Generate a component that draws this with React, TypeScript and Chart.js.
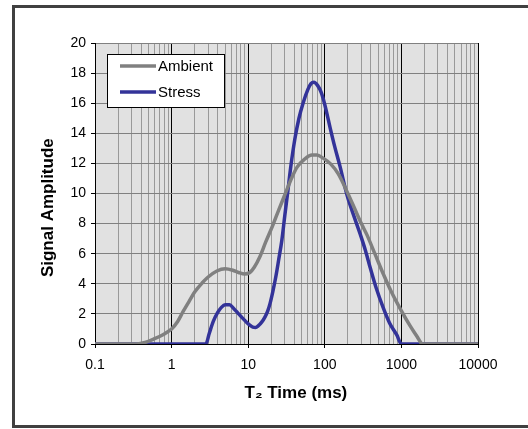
import React, { useEffect, useRef } from "react";
import { Chart, registerables } from "chart.js";

Chart.register(...registerables);

// ---- data ----
const ambientTime = [0.1, 0.35, 0.45, 0.6, 0.75, 0.87, 1.0, 1.2, 1.41, 1.7, 2.0, 2.5, 3.0, 3.9, 5.0, 6.3, 7.5, 9.0, 10.5, 12, 14.2, 17, 21, 25, 30, 36, 43.5, 55, 68, 79, 95, 120, 150, 200, 250, 300, 355, 450, 575, 750, 1000, 1300, 1600, 1800, 1900, 10000];
const ambientAmp = [0, 0, 0.1, 0.35, 0.58, 0.78, 1.0, 1.5, 2.15, 2.85, 3.45, 4.05, 4.45, 4.85, 5.0, 4.9, 4.75, 4.65, 4.75, 5.1, 5.8, 6.8, 7.9, 8.9, 9.9, 10.9, 11.75, 12.3, 12.55, 12.55, 12.35, 11.95, 11.3, 10.0, 8.9, 8.0, 7.25, 6.0, 4.7, 3.4, 2.2, 1.2, 0.5, 0.08, 0, 0];

const stressTime = [0.1, 2.8, 3.1, 3.5, 4.0, 4.5, 5.0, 5.7, 6.5, 7.5, 8.5, 9.5, 10.5, 11.5, 12.5, 13.5, 15, 16.6, 18, 19.3, 21, 23, 25, 27.5, 30, 33, 36, 40.6, 46, 52, 60, 66, 72, 80, 90, 100, 117, 135, 158, 195, 240, 290, 340, 390, 470, 575, 700, 870, 1000, 10000];
const stressAmp = [0, 0, 0.7, 1.5, 2.1, 2.45, 2.6, 2.6, 2.35, 2.0, 1.7, 1.45, 1.25, 1.12, 1.1, 1.2, 1.45, 1.8, 2.2, 2.7, 3.5, 4.5, 5.6, 6.9, 8.5, 10.2, 11.8, 13.6, 15.0, 16.0, 16.9, 17.3, 17.4, 17.2, 16.7, 15.9, 14.4, 13.1, 11.8, 9.9, 8.5, 7.3, 6.2, 5.1, 3.7, 2.45, 1.4, 0.6, 0, 0];

const seriesLabels = ["Ambient", "Stress"];
const xDecades = [0.1, 1, 10, 100, 1000, 10000];
const xTickLabels = ["0.1", "1", "10", "100", "1000", "10000"];
const yTickValues = [0, 2, 4, 6, 8, 10, 12, 14, 16, 18, 20];
const yTickLabels = ["0", "2", "4", "6", "8", "10", "12", "14", "16", "18", "20"];

const FONT = "'Liberation Sans', Arial, sans-serif";
const AMBIENT_COLOR = "#808080";
const STRESS_COLOR = "#333399";

const framePlugin = {
  id: "frame",
  beforeDraw(chart: any) {
    const { ctx, chartArea } = chart;
    ctx.save();
    ctx.fillStyle = "#ffffff";
    ctx.fillRect(0, 0, chart.width, chart.height);
    ctx.strokeStyle = "#404040";
    ctx.lineWidth = 3;
    ctx.strokeRect(13.5, 6.5, 530, 420);
    ctx.fillStyle = "#e1e1e1";
    ctx.fillRect(chartArea.left, chartArea.top, chartArea.right - chartArea.left, chartArea.bottom - chartArea.top);
    ctx.restore();
  },
  afterDraw(chart: any) {
    const { ctx } = chart;
    const x0 = 107.5, y0 = 54.5, w = 117, h = 53;
    ctx.save();
    ctx.fillStyle = "#ffffff";
    ctx.fillRect(x0, y0, w, h);
    ctx.strokeStyle = "#000000";
    ctx.lineWidth = 1;
    ctx.strokeRect(x0, y0, w, h);
    const ds = chart.data.datasets;
    const rows = [66, 92];
    ds.forEach((d: any, i: number) => {
      ctx.strokeStyle = d.borderColor;
      ctx.lineWidth = 3.5;
      ctx.beginPath();
      ctx.moveTo(120, rows[i]);
      ctx.lineTo(156, rows[i]);
      ctx.stroke();
      ctx.fillStyle = "#000000";
      ctx.font = `15px ${FONT}`;
      ctx.textBaseline = "middle";
      ctx.textAlign = "left";
      ctx.fillText(d.label, 158, rows[i] + 1);
    });
    ctx.restore();
  },
};

function isMajorTick(ctx: any) {
  return !!(ctx && ctx.tick && ctx.tick.major);
}

export default function App() {
  const ref = useRef<HTMLCanvasElement | null>(null);

  useEffect(() => {
    if (!ref.current) return;
    const chart = new Chart(ref.current, {
      type: "scatter",
      data: {
        datasets: [
          {
            label: seriesLabels[0],
            data: ambientTime.map((t, i) => ({ x: t, y: ambientAmp[i] })),
            showLine: true,
            borderColor: AMBIENT_COLOR,
            backgroundColor: AMBIENT_COLOR,
            borderWidth: 3.5,
            pointRadius: 0,
            cubicInterpolationMode: "monotone",
          },
          {
            label: seriesLabels[1],
            data: stressTime.map((t, i) => ({ x: t, y: stressAmp[i] })),
            showLine: true,
            borderColor: STRESS_COLOR,
            backgroundColor: STRESS_COLOR,
            borderWidth: 3.5,
            pointRadius: 0,
            cubicInterpolationMode: "monotone",
          },
        ],
      },
      options: {
        responsive: false,
        animation: false,
        devicePixelRatio: 1,
        layout: { padding: { top: 43, right: 50, left: 0, bottom: 0 } },
        plugins: {
          legend: { display: false },
          tooltip: { enabled: false },
        },
        scales: {
          x: {
            type: "logarithmic",
            min: 0.1,
            max: 10000,
            afterBuildTicks: (scale: any) => {
              const ticks: any[] = [];
              for (let d = 0; d < xDecades.length; d++) {
                const base = xDecades[d];
                ticks.push({ value: base, major: true });
                if (d < xDecades.length - 1) {
                  for (let k = 2; k <= 9; k++) ticks.push({ value: base * k, major: false });
                }
              }
              scale.ticks = ticks;
            },
            afterFit: (scale: any) => {
              scale.height = 85;
            },
            ticks: {
              autoSkip: false,
              maxRotation: 0,
              minRotation: 0,
              padding: 9,
              color: "#000000",
              font: { family: FONT, size: 14 },
              callback: (value: any, index: number, ticks: any[]) => {
                if (!ticks[index].major) return "";
                const di = xDecades.findIndex((d) => Math.abs(d - Number(value)) < d * 1e-6);
                return di >= 0 ? xTickLabels[di] : "";
              },
            },
            grid: {
              color: (ctx: any) => (isMajorTick(ctx) ? "#000000" : "#999999"),
              tickColor: (ctx: any) => (isMajorTick(ctx) ? "#000000" : "rgba(0,0,0,0)"),
              tickLength: 4,
              lineWidth: 1,
            },
            border: { display: true, color: "#000000", width: 1 },
            title: {
              display: true,
              text: "    T\u2082 Time (ms)",
              color: "#000000",
              font: { family: FONT, size: 17, weight: "bold" },
              padding: { top: 0, bottom: 25 },
            },
          },
          y: {
            type: "linear",
            min: 0,
            max: 20,
            afterBuildTicks: (scale: any) => {
              scale.ticks = yTickValues.map((v) => ({ value: v }));
            },
            afterFit: (scale: any) => {
              scale.width = 95;
            },
            ticks: {
              padding: 5,
              color: "#000000",
              font: { family: FONT, size: 14 },
              callback: (value: any) => {
                const i = yTickValues.indexOf(Number(value));
                return i >= 0 ? yTickLabels[i] : "";
              },
            },
            grid: {
              color: "#808080",
              tickColor: "#000000",
              tickLength: 4,
              lineWidth: 1,
            },
            border: { display: true, color: "#000000", width: 1 },
            title: {
              display: true,
              text: "Signal Amplitude      ",
              color: "#000000",
              font: { family: FONT, size: 17, weight: "bold" },
              padding: { top: 38, bottom: 0 },
            },
          },
        },
      },
      plugins: [framePlugin],
    } as any);
    return () => chart.destroy();
  }, []);

  return (
    <div style={{ position: "absolute", left: 0, top: 0, width: 528, height: 429 }}>
      <canvas ref={ref} width={528} height={429} style={{ width: 528, height: 429, display: "block" }} />
    </div>
  );
}
